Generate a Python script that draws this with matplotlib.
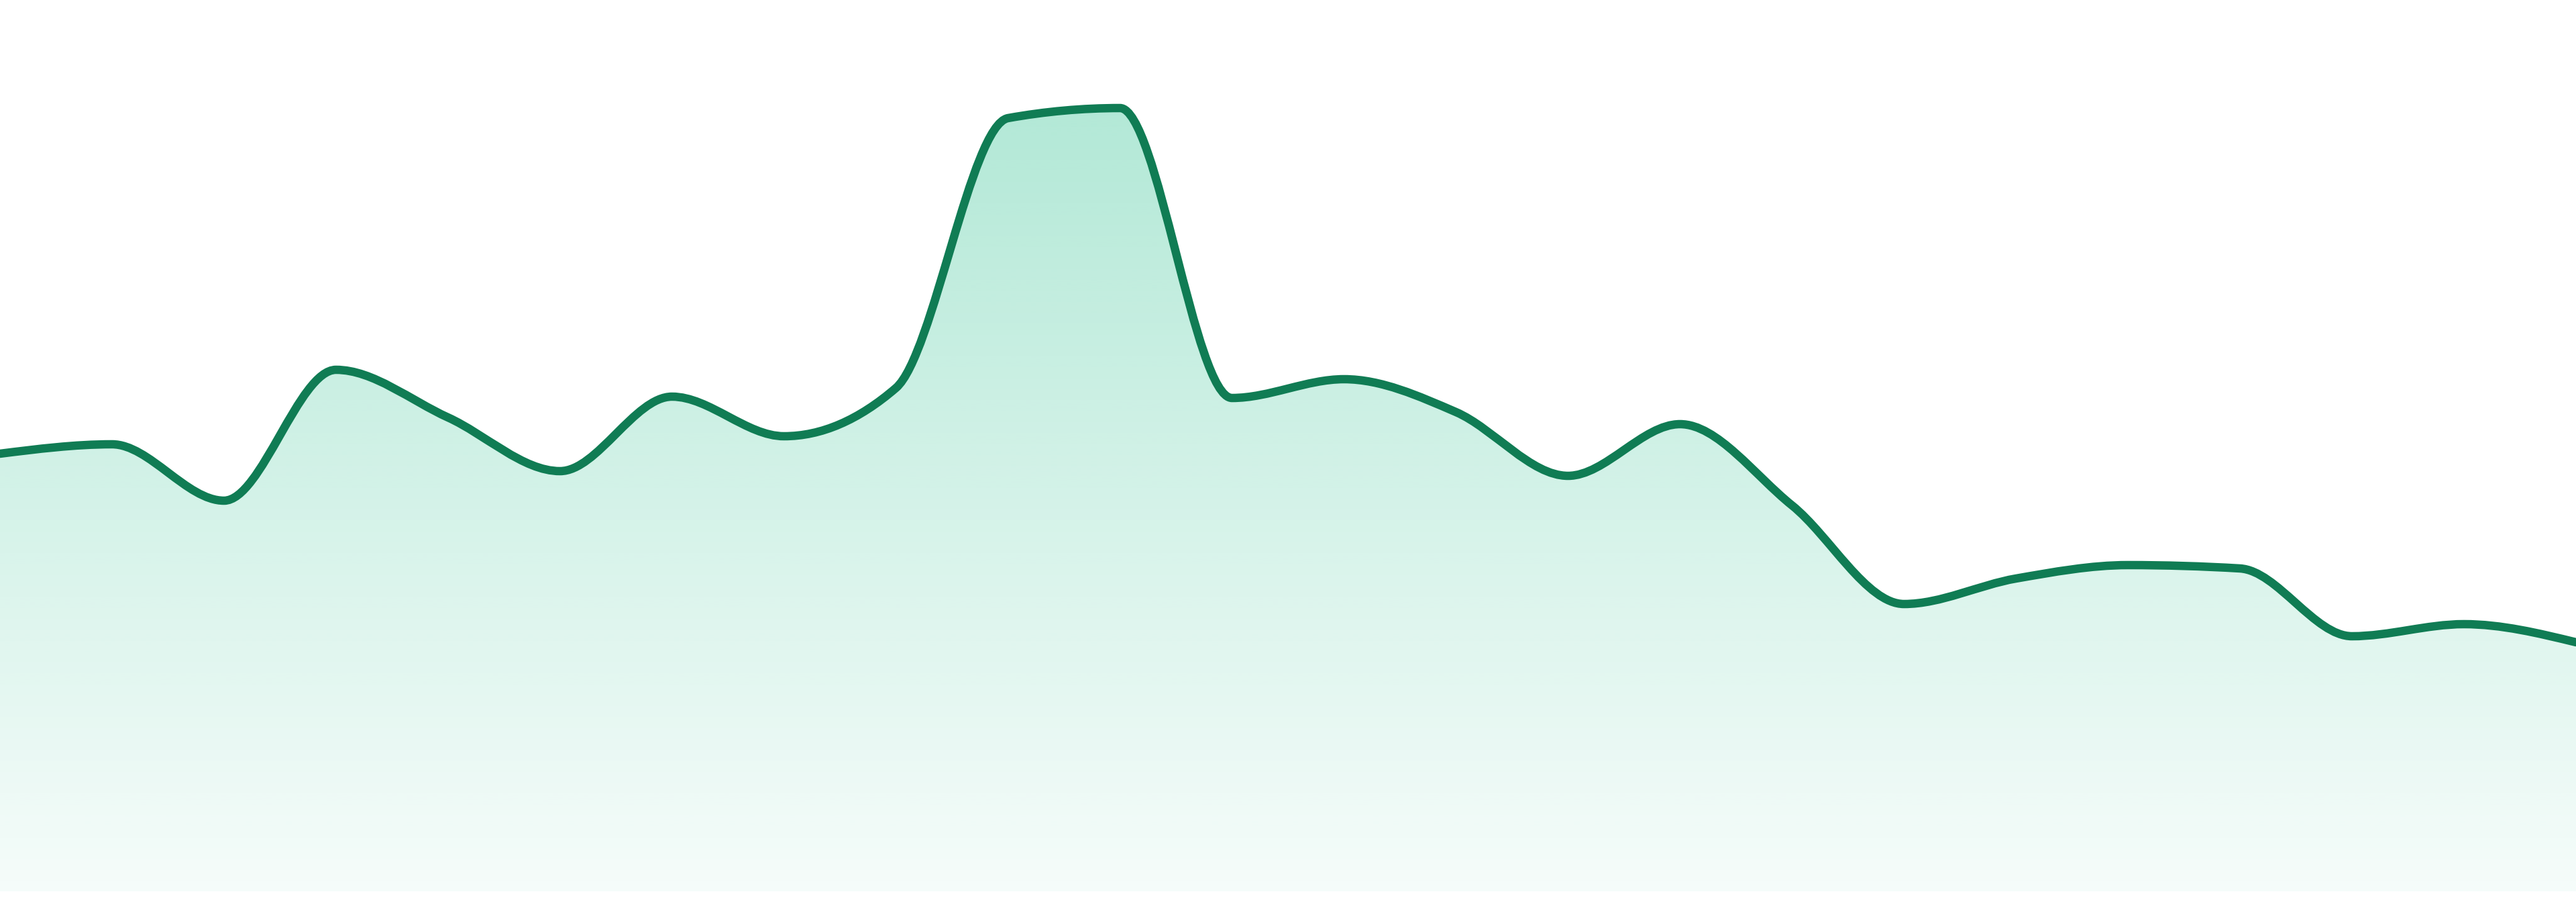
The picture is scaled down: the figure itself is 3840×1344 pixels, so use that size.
import numpy as np
import matplotlib.pyplot as plt
from matplotlib.path import Path
from matplotlib.patches import PathPatch
from matplotlib.colors import to_rgb

# values, one per evenly spaced step
steps = list(range(24))
values = [65.2, 66.6, 58.2, 77.7, 70.6, 62.6, 73.7, 67.8, 75.0, 115.2, 116.7, 73.5,
          76.3, 71.4, 61.9, 69.6, 57.5, 42.8, 46.6, 48.6, 48.1, 38.0, 39.8, 37.1]

line_color = "#107c54"
fill_color = "#10b981"
y_max = 132.8


def sign(v):
    return -1.0 if v < 0 else 1.0


def monotone_tangents(x, y):
    # same slopes as d3.curveMonotoneX
    n = len(x)
    t = [0.0] * n
    for i in range(1, n - 1):
        h0 = x[i] - x[i - 1]
        h1 = x[i + 1] - x[i]
        s0 = (y[i] - y[i - 1]) / h0
        s1 = (y[i + 1] - y[i]) / h1
        p = (s0 * h1 + s1 * h0) / (h0 + h1)
        t[i] = (sign(s0) + sign(s1)) * min(abs(s0), abs(s1), 0.5 * abs(p))
    t[0] = (3 * (y[1] - y[0]) / (x[1] - x[0]) - t[1]) / 2
    t[-1] = (3 * (y[-1] - y[-2]) / (x[-1] - x[-2]) - t[-2]) / 2
    return t


def curve_path(x, y, close_to=None):
    t = monotone_tangents(x, y)
    verts = [(x[0], y[0])]
    codes = [Path.MOVETO]
    for i in range(len(x) - 1):
        dx = (x[i + 1] - x[i]) / 3
        verts += [(x[i] + dx, y[i] + dx * t[i]),
                  (x[i + 1] - dx, y[i + 1] - dx * t[i + 1]),
                  (x[i + 1], y[i + 1])]
        codes += [Path.CURVE4] * 3
    if close_to is not None:
        verts += [(x[-1], close_to), (x[0], close_to), (x[0], y[0])]
        codes += [Path.LINETO, Path.LINETO, Path.CLOSEPOLY]
    return Path(verts, codes)


fig = plt.figure(figsize=(38.4, 13.44), dpi=100)
ax = fig.add_axes([0, 16 / 1344, 1, 1328 / 1344])
ax.set_xlim(steps[0], steps[-1])
ax.set_ylim(0, y_max)
ax.axis("off")

# gradient fill under the curve
top = max(values)
rgb = to_rgb(fill_color)
grad = np.zeros((256, 2, 4))
grad[:, :, 0], grad[:, :, 1], grad[:, :, 2] = rgb
alpha = np.linspace(0.32, 0.04, 256)
grad[:, :, 3] = alpha[:, None]
img = ax.imshow(grad, extent=[steps[0], steps[-1], 0, top], origin="upper",
                aspect="auto", interpolation="bilinear", zorder=1)
area = PathPatch(curve_path(steps, values, close_to=0), facecolor="none",
                 edgecolor="none", transform=ax.transData)
ax.add_patch(area)
img.set_clip_path(area)

line = PathPatch(curve_path(steps, values), facecolor="none", edgecolor=line_color,
                 linewidth=9, capstyle="round", joinstyle="round", zorder=3)
ax.add_patch(line)

plt.savefig("out.png", dpi=100, facecolor="white")
plt.close()
